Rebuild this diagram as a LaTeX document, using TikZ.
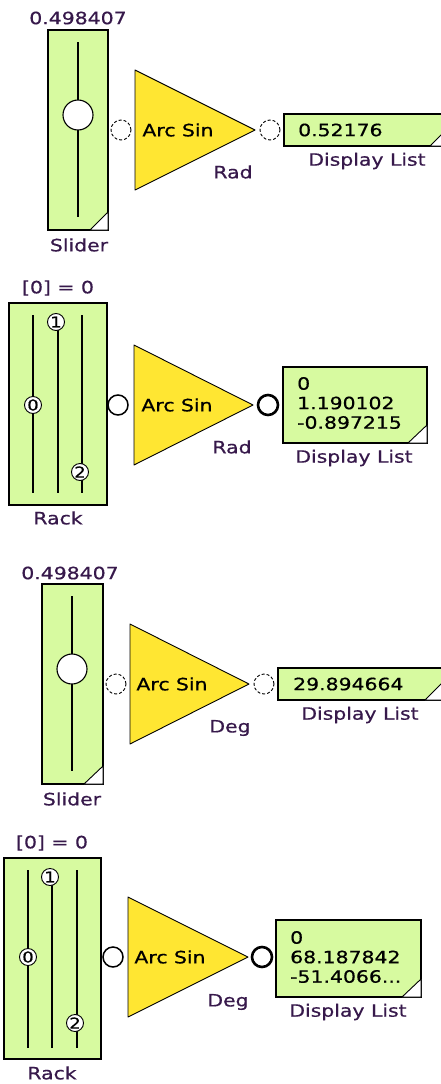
\documentclass[tikz,border=0pt]{standalone}
\usepackage{fontspec}
\usepackage{tikz}
\usepackage{tkz-euclide}
\newfontfamily\uifont[FakeStretch=1.2, FakeBold=0.6]{DejaVu Sans}
\definecolor{panelgreen}{RGB}{215,250,160}
\definecolor{gainyellow}{RGB}{255,230,50}
\definecolor{tagcolor}{RGB}{55,25,75}

\begin{document}
\begin{tikzpicture}[x=1pt, y=-1pt,
    panel/.style={draw, fill=panelgreen, line width=1.4pt},
    gain/.style={draw, fill=gainyellow, line width=0.9pt},
    corner/.style={draw, fill=white, line width=0.9pt},
    track/.style={line width=1.3pt},
    knob/.style={circle, draw, fill=white, line width=1.1pt, minimum size=30pt, inner sep=0pt},
    rackknob/.style={circle, draw, fill=white, line width=0.9pt, minimum size=17pt, inner sep=0pt,
        font=\uifont\fontsize{15}{15}\selectfont},
    port/.style={circle, draw, fill=white, minimum size=20pt, inner sep=0pt},
    idle/.style={port, line width=0.9pt, densely dashed},
    live/.style={port, line width=1.5pt},
    hot/.style={port, line width=2.6pt},
    tagtxt/.style={inner sep=0pt, text=tagcolor, font=\uifont\fontsize{17}{20}\selectfont},
    valtxt/.style={inner sep=0pt, font=\uifont\fontsize{17}{19.5}\selectfont, align=left}]
    \clip (0,0) rectangle (441,1084);

    \draw[panel] (48,30) rectangle (108,230);
    \draw[track] (78,42) -- (78,217);
    \node[knob] (knob1) at (78,115) {};
    \draw[corner] (90,230) -- (108,212) -- (108,230) -- cycle;
    \node[tagtxt] (val1) at (78,18) {0.498407};
    \node[tagtxt] (slider1) at (79,245) {Slider};
    \tkzDefPoint(135,70){A1}
    \tkzDefPoint(135,190){B1}
    \tkzDefPoint(255,130){C1}
    \tkzDrawPolygon[gain](A1,B1,C1)
    \node[idle] (in1) at (121,130) {};
    \node[idle] (out1) at (270,130) {};
    \node[valtxt] (fn1) at (178,130) {Arc Sin};
    \node[tagtxt] (unit1) at (233,172) {Rad};
    \draw[panel] (284,114) rectangle (449,146);
    \draw[corner] (430,146) -- (449,127) -- (449,146) -- cycle;
    \node[valtxt, anchor=west] (res1) at (298,130) {0.52176};
    \node[tagtxt] (disp1) at (367,161) {Display List};

    \draw[panel] (9,303) rectangle (107,505);
    \draw[track] (33,315) -- (33,493);
    \draw[track] (58,322) -- (58,493);
    \draw[track] (82,315) -- (82,493);
    \node[rackknob] (knob2a) at (33,405) {0};
    \node[rackknob] (knob2b) at (56,322) {1};
    \node[rackknob] (knob2c) at (80,472) {2};
    \node[tagtxt] (val2) at (58,288) {[0] = 0};
    \node[tagtxt] (rack2) at (58,518) {Rack};
    \tkzDefPoint(134,345){A2}
    \tkzDefPoint(134,465){B2}
    \tkzDefPoint(253,405){C2}
    \tkzDrawPolygon[gain](A2,B2,C2)
    \node[live] (in2) at (118,405) {};
    \node[hot] (out2) at (268,405) {};
    \node[valtxt] (fn2) at (177,405) {Arc Sin};
    \node[tagtxt] (unit2) at (232,447) {Rad};
    \draw[panel] (283,367) rectangle (427,443);
    \draw[corner] (408,443) -- (427,425) -- (427,443) -- cycle;
    \node[valtxt, anchor=west] (res2) at (297,403) {0\\1.190102\\-0.897215};
    \node[tagtxt] (disp2) at (354,458) {Display List};

    \draw[panel] (42,584) rectangle (103,784);
    \draw[track] (72,596) -- (72,771);
    \node[knob] (knob3) at (72,669) {};
    \draw[corner] (84,784) -- (103,766) -- (103,784) -- cycle;
    \node[tagtxt] (val3) at (70,573) {0.498407};
    \node[tagtxt] (slider3) at (72,799) {Slider};
    \tkzDefPoint(130,624){A3}
    \tkzDefPoint(130,744){B3}
    \tkzDefPoint(249,684){C3}
    \tkzDrawPolygon[gain](A3,B3,C3)
    \node[idle] (in3) at (116,684) {};
    \node[idle] (out3) at (264,684) {};
    \node[valtxt] (fn3) at (172,684) {Arc Sin};
    \node[tagtxt] (unit3) at (230,728) {Deg};
    \draw[panel] (278,668) rectangle (444,700);
    \draw[corner] (425,700) -- (444,681) -- (444,700) -- cycle;
    \node[valtxt, anchor=west] (res3) at (293,684) {29.894664};
    \node[tagtxt] (disp3) at (360,715) {Display List};

    \draw[panel] (4,858) rectangle (101,1059);
    \draw[track] (28,870) -- (28,1048);
    \draw[track] (52,877) -- (52,1048);
    \draw[track] (77,870) -- (77,1048);
    \node[rackknob] (knob4a) at (28,957) {0};
    \node[rackknob] (knob4b) at (50,877) {1};
    \node[rackknob] (knob4c) at (75,1023) {2};
    \node[tagtxt] (val4) at (52,843) {[0] = 0};
    \node[tagtxt] (rack4) at (52,1073) {Rack};
    \tkzDefPoint(128,897){A4}
    \tkzDefPoint(128,1017){B4}
    \tkzDefPoint(248,957){C4}
    \tkzDrawPolygon[gain](A4,B4,C4)
    \node[live] (in4) at (113,957) {};
    \node[hot] (out4) at (262,957) {};
    \node[valtxt] (fn4) at (170,957) {Arc Sin};
    \node[tagtxt] (unit4) at (228,1002) {Deg};
    \draw[panel] (276,920) rectangle (421,997);
    \draw[corner] (402,997) -- (421,979) -- (421,997) -- cycle;
    \node[valtxt, anchor=west] (res4) at (290,957) {0\\68.187842\\-51.4066...};
    \node[tagtxt] (disp4) at (348,1012) {Display List};
\end{tikzpicture}
\end{document}
